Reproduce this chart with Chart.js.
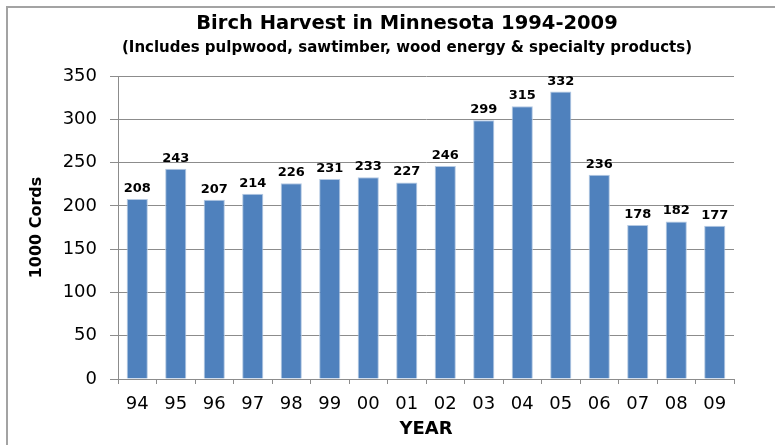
<!DOCTYPE html>
<html>
<head>
<meta charset="utf-8">
<script src="https://cdn.jsdelivr.net/npm/chart.js"></script>
<style>
  body { margin: 0; background: #fff; overflow: hidden; }
  #frame { position: absolute; left: 6px; top: 6px; width: 769px; height: 439px; border-top: 2px solid #a3a3a3; border-left: 2px solid #a3a3a3; }
  #birchChart { position: absolute; left: 0; top: 0; }
</style>
</head>
<body>
<div id="frame"></div>
<canvas id="birchChart" width="775" height="445"></canvas>
<script>
const years = ["94", "95", "96", "97", "98", "99", "00", "01", "02", "03", "04", "05", "06", "07", "08", "09"];
const cords = [208, 243, 207, 214, 226, 231, 233, 227, 246, 299, 315, 332, 236, 178, 182, 177];

const gridGray = "#8c8c8c";
const font = "'DejaVu Sans', Verdana, sans-serif";

// draws the value above each bar
const barLabels = {
    id: "barLabels",
    afterDatasetsDraw(chart) {
        const ctx = chart.ctx;
        const meta = chart.getDatasetMeta(0);
        ctx.save();
        ctx.font = "bold 13px " + font;
        ctx.fillStyle = "#000";
        ctx.textAlign = "center";
        ctx.textBaseline = "alphabetic";
        meta.data.forEach((bar, i) => {
            ctx.fillText(String(cords[i]), bar.x, bar.y - 7);
        });
        ctx.restore();
    }
};

const ctx = document.getElementById("birchChart").getContext("2d");
new Chart(ctx, {
    type: "bar",
    data: {
        labels: years,
        datasets: [{
            label: "1000 Cords",
            data: cords,
            backgroundColor: "#4f81bd",
            borderColor: "#b4c9e3",
            borderWidth: 1,
            barPercentage: 0.55,
            categoryPercentage: 1
        }]
    },
    options: {
        responsive: false,
        animation: false,
        layout: { padding: { left: 39, right: 0, top: 0, bottom: 0 } },
        plugins: {
            legend: { display: false },
            tooltip: { enabled: false },
            title: {
                display: true,
                text: "Birch Harvest in Minnesota 1994-2009",
                color: "#000",
                font: { family: font, size: 19.5, weight: "bold" },
                padding: { top: 12.3, bottom: 3.3 }
            },
            subtitle: {
                display: true,
                text: "(Includes pulpwood, sawtimber, wood energy & specialty products)",
                color: "#000",
                font: { family: font, size: 15, weight: "bold" },
                padding: { top: 0, bottom: 19 }
            }
        },
        scales: {
            x: {
                grid: { drawOnChartArea: false, color: gridGray, tickLength: 5, offset: true },
                border: { color: gridGray },
                ticks: { color: "#000", font: { family: font, size: 18 }, padding: 10 },
                title: {
                    display: true,
                    text: "YEAR",
                    color: "#000",
                    font: { family: font, size: 18, weight: "bold" },
                    padding: { top: 0, bottom: 5 }
                },
                afterFit: s => { s.height = 66; }
            },
            y: {
                min: 0,
                max: 350,
                ticks: { stepSize: 50, color: "#000", font: { family: font, size: 18 }, padding: 13 },
                grid: { color: gridGray, tickLength: 8 },
                border: { color: gridGray },
                title: {
                    display: true,
                    text: "1000 Cords",
                    color: "#000",
                    font: { family: font, size: 16, weight: "bold" },
                    padding: { top: -11.6, bottom: 0 }
                },
                afterFit: s => { s.width = 79; }
            },
            spacer: {
                position: "right",
                display: true,
                grid: { display: false },
                border: { display: false },
                ticks: { display: false },
                afterFit: s => { s.width = 41; }
            }
        }
    },
    plugins: [barLabels]
});
</script>
</body>
</html>
